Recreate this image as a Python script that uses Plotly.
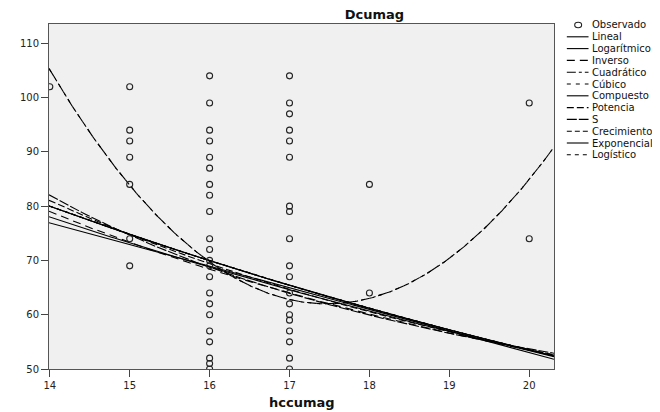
import numpy as np
import plotly.graph_objects as go

# ---------------- data ----------------
hccumag = ([14] +
           [15] * 7 +
           [16] * 22 +
           [17] * 19 +
           [18] * 2 +
           [20] * 2)
dcumag = ([102] +
          [102, 94, 92, 89, 84, 74, 69] +
          [104, 99, 94, 92, 89, 87, 84, 82, 79, 74, 72, 70, 69, 67, 64, 62, 60, 57, 55, 52, 51, 50] +
          [104, 99, 97, 94, 92, 89, 80, 79, 74, 69, 67, 64, 62, 60, 59, 57, 55, 52, 50] +
          [84, 64] +
          [99, 74])

# fitted model coefficients (estimated from the drawn curves)
lineal_b = [132.59, -3.978]
logaritmico_b = [260.35, -69.1]
inverso_b = [-6.0, 1189.9]
cuadratico_b = [1154.62, -125.085, 3.58]
cubico_b = [1154.62, -125.085, 3.58, 0.0]
compuesto_b = [204.5, 0.93515]
potencia_b = [1730.0, -1.16]
s_b = [2.996, 19.75]
crecimiento_b = [5.3206, -0.06705]
exponencial_b = [204.5, -0.06705]
logistico_b = [0.00489, 1.06935]

x_range = [13.99, 20.31]
y_range = [50, 113.55]
x_ticks = [14, 15, 16, 17, 18, 19, 20]
y_ticks = [50, 60, 70, 80, 90, 100, 110]

legend_labels = ["Observado", "Lineal", "Logarítmico", "Inverso", "Cuadrático", "Cúbico",
                 "Compuesto", "Potencia", "S", "Crecimiento", "Exponencial", "Logístico"]

# ---------------- models ----------------
xg = np.linspace(x_range[0], x_range[1], 400)
models = {
    "Lineal": lineal_b[0] + lineal_b[1] * xg,
    "Logarítmico": logaritmico_b[0] + logaritmico_b[1] * np.log(xg),
    "Inverso": inverso_b[0] + inverso_b[1] / xg,
    "Cuadrático": cuadratico_b[0] + cuadratico_b[1] * xg + cuadratico_b[2] * xg ** 2,
    "Cúbico": cubico_b[0] + cubico_b[1] * xg + cubico_b[2] * xg ** 2 + cubico_b[3] * xg ** 3,
    "Compuesto": compuesto_b[0] * compuesto_b[1] ** xg,
    "Potencia": potencia_b[0] * xg ** potencia_b[1],
    "S": np.exp(s_b[0] + s_b[1] / xg),
    "Crecimiento": np.exp(crecimiento_b[0] + crecimiento_b[1] * xg),
    "Exponencial": exponencial_b[0] * np.exp(exponencial_b[1] * xg),
    "Logístico": 1.0 / (logistico_b[0] * logistico_b[1] ** xg),
}
dashes = {
    "Lineal": "solid",
    "Logarítmico": "solid",
    "Inverso": "8px,5px",
    "Cuadrático": "9px,3px,3px,3px",
    "Cúbico": "4px,5px",
    "Compuesto": "solid",
    "Potencia": "7px,3px",
    "S": "10px,2px",
    "Crecimiento": "5px,3px",
    "Exponencial": "solid",
    "Logístico": "4px,4px",
}

FONT = "DejaVu Sans, Liberation Sans, Arial, sans-serif"
# the page body has an 8px margin, so the figure is laid out 8px up/left
W, H = 652, 404
L, R, T, B = 34, 106, 16, 43
pw, ph = W - L - R, H - T - B


def px(xp):
    return (xp - L) / pw


def py(yp):
    return (H - B - yp) / ph


fig = go.Figure()
for name, yv in models.items():
    fig.add_trace(go.Scatter(x=xg, y=yv, mode="lines", name=name,
                             line=dict(color="black", width=1.1, dash=dashes[name]),
                             hoverinfo="skip", showlegend=False))
fig.add_trace(go.Scatter(x=hccumag, y=dcumag, mode="markers", name="Observado",
                         marker=dict(symbol="circle-open", size=6, color="#222",
                                     line=dict(width=1.1, color="#222")),
                         showlegend=False))

# ---------------- manual legend ----------------
shapes = []
annotations = []
ly0, lstep = 17, 11.8
for i, lab in enumerate(legend_labels):
    yc = ly0 + i * lstep
    if lab == "Observado":
        shapes.append(dict(type="circle", xref="paper", yref="paper",
                           x0=px(567), x1=px(574), y0=py(yc + 2.7), y1=py(yc - 2.7),
                           line=dict(color="#222", width=1.1)))
    else:
        shapes.append(dict(type="line", xref="paper", yref="paper",
                           x0=px(559), x1=px(581), y0=py(yc), y1=py(yc),
                           line=dict(color="black", width=1.1, dash=dashes[lab])))
    annotations.append(dict(text=lab, xref="paper", yref="paper", x=px(583), y=py(yc),
                            xanchor="left", yanchor="middle", showarrow=False,
                            font=dict(family=FONT, size=10, color="#111")))

annotations.append(dict(text="<b>hccumag</b>", xref="paper", yref="paper", x=0.5, y=0,
                        yanchor="middle", yshift=-33, showarrow=False,
                        font=dict(family=FONT, size=13, color="#111")))

fig.update_layout(
    width=W, height=H,
    margin=dict(l=L, r=R, t=T, b=B),
    paper_bgcolor="white", plot_bgcolor="#f0f0f0",
    title=dict(text="<b>Dcumag</b>", x=px(364), xref="paper", y=1 - 6 / H, yref="container",
               xanchor="center", yanchor="middle",
               font=dict(family=FONT, size=13, color="#111")),
    showlegend=False,
    shapes=shapes, annotations=annotations,
    font=dict(family=FONT, size=10, color="#222"),
)
fig.update_xaxes(range=x_range, tickvals=x_ticks, ticks="outside", ticklen=7, tickcolor="#444",
                 showgrid=False, zeroline=False, showline=True, linecolor="#555", linewidth=1,
                 mirror=True, tickfont=dict(family=FONT, size=10, color="#222"))
fig.update_yaxes(range=y_range, tickvals=y_ticks, ticks="outside", ticklen=7, tickcolor="#444",
                 showgrid=False, zeroline=False, showline=True, linecolor="#555", linewidth=1,
                 mirror=True, tickfont=dict(family=FONT, size=10, color="#222"))

fig.write_html("out.html")
